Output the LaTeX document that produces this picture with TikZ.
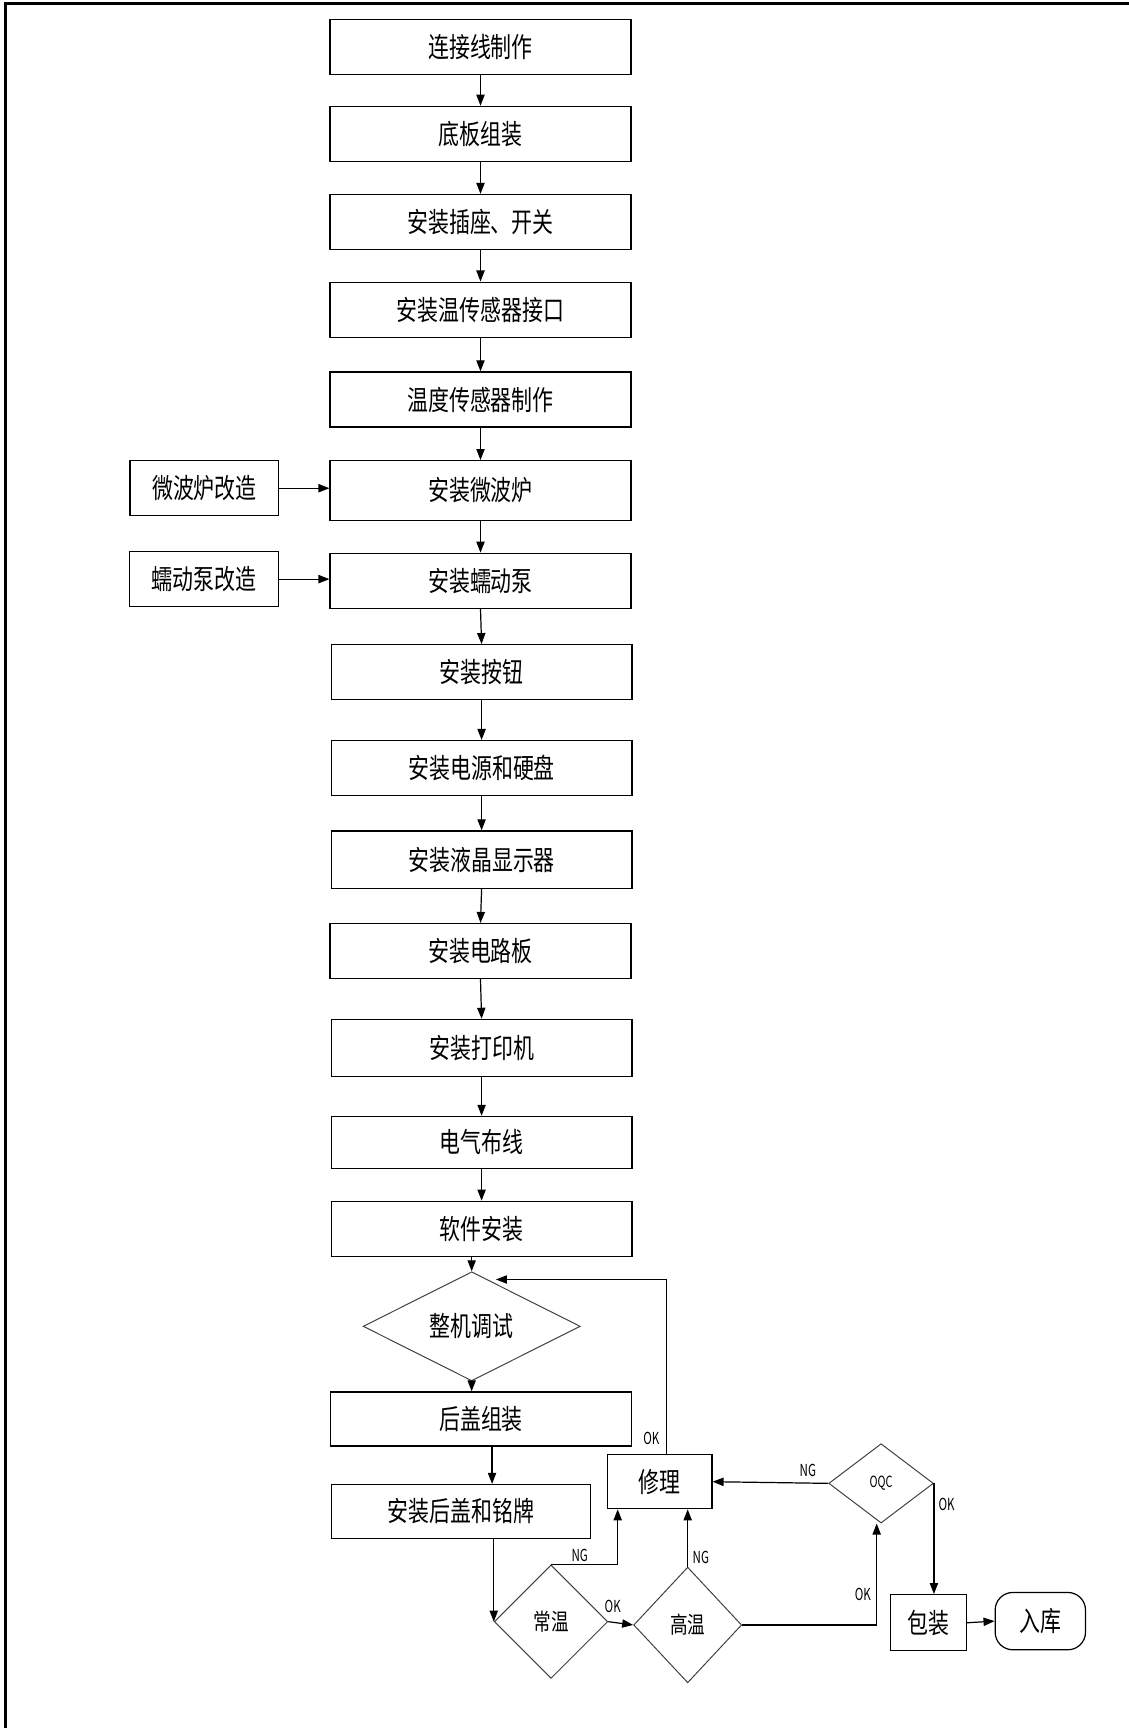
\documentclass[tikz,border=0pt]{standalone}
\usepackage{fontspec}
\newfontfamily\cjk[FakeStretch=0.76]{Noto Sans CJK SC}
\newfontfamily\tag[FakeStretch=0.7]{Noto Sans CJK SC}
\usetikzlibrary{arrows.meta,shapes.geometric,calc}

\begin{document}
\begin{tikzpicture}[x=1pt,y=-1pt,>={Triangle[length=10pt,width=7.5pt]},
  font=\cjk\fontsize{25}{25}\selectfont,line width=1.1pt,
  box/.style={draw,rectangle,minimum width=273pt,minimum height=50pt,inner sep=0pt},
  sidebox/.style={draw,rectangle,minimum width=135pt,minimum height=50pt,inner sep=0pt},
  test/.style={draw=black!75,line width=0.9pt,diamond,inner sep=0pt},
  lbl/.style={font=\tag\fontsize{15}{15}\selectfont,inner sep=1pt}]
  \useasboundingbox (0,0) rectangle (1024,1568);
  % frame
  \draw[line width=2.6pt] (1024,3) -- (5,3) -- (5,1568);

  % main line
  \node[box] (b1) at (436,42.5) {连接线制作};
  \node[box] (b2) at (436,121.5) {底板组装};
  \node[box] (b3) at (436,201.5) {安装插座、开关};
  \node[box] (b4) at (436,281) {安装温传感器接口};
  \node[box] (b5) at (436,362.5) {温度传感器制作};
  \node[box,minimum height=54pt] (b6) at (436,445) {安装微波炉};
  \node[box] (b7) at (436,527) {安装蠕动泵};
  \node[box] (b8) at (437,610) {安装按钮};
  \node[box] (b9) at (437,697) {安装电源和硬盘};
  \node[box,minimum height=52pt] (b10) at (437,780) {安装液晶显示器};
  \node[box] (b11) at (436,863) {安装电路板};
  \node[box,minimum height=52pt] (b12) at (437,951) {安装打印机};
  \node[box,minimum height=47pt] (b13) at (437,1036.5) {电气布线};
  \node[box] (b14) at (437,1115) {软件安装};
  \node[sidebox] (wb) at (185.5,443) {微波炉改造};
  \node[sidebox] (rd) at (185,525.5) {蠕动泵改造};

  \foreach \a/\b in {b1/b2,b2/b3,b3/b4,b4/b5,b5/b6,b6/b7,b7/b8,b8/b9,b9/b10,b10/b11,b11/b12,b12/b13,b13/b14}
    \draw[->] (\a.south) -- (\b.north);
  \draw[->] (wb.east) -- (wb.east -| b6.west);
  \draw[->] (rd.east) -- (rd.east -| b7.west);

  % test and checks
  \node[test,minimum width=197pt,minimum height=67pt] (tst) at (428,1203.5) {整机调试};
  \node[box,minimum height=49pt] (hg) at (436.5,1287.5) {后盖组装};
  \node[box,minimum width=235pt,minimum height=49pt] (mp) at (418.5,1371.5) {安装后盖和铭牌};
  \node[test,minimum width=103pt,minimum height=103pt,font=\cjk\fontsize{21}{21}\selectfont] (cw) at (500,1471.5) {常温};
  \node[test,minimum width=98pt,minimum height=105pt,font=\cjk\fontsize{21}{21}\selectfont] (gw) at (624,1474.5) {高温};
  \node[box,minimum width=95pt,minimum height=49pt] (xl) at (598.5,1344.5) {修理};
  \node[test,minimum width=95pt,minimum height=72pt,font=\tag\fontsize{14}{14}\selectfont] (oqc) at (799.5,1346) {OQC};
  \node[box,minimum width=69pt,minimum height=51pt] (bz) at (842.5,1472.5) {包装};
  \node[draw,rectangle,rounded corners=16pt,minimum width=82pt,minimum height=52pt,inner sep=0pt] (rk) at (944,1471) {入库};
  \coordinate (back) at (450,1161);

  \draw[->] ([xshift=-9pt]b14.south) -- (tst.north);
  \draw[->] ([xshift=6pt]xl.north) |- (back);
  \node[lbl] at (591,1305) {OK};
  \draw[->] (tst.south) -- (tst.south |- hg.north);
  \draw[->] ([xshift=10pt]hg.south) -- ([xshift=10pt]hg.south |- mp.north);
  \draw[->] (mp.south -| cw.west) -- (cw.west);
  \draw[->] (cw.north) -| ([xshift=-38pt]xl.south);
  \node[lbl] at (526,1411) {NG};
  \draw[->] (cw.east) -- (gw.west);
  \node[lbl] at (556,1458) {OK};
  \draw[->] (gw.north) -- (gw.north |- xl.south);
  \node[lbl] at (636,1413) {NG};
  \draw[->] (gw.east) -| ([xshift=-4pt]oqc.south);
  \node[lbl] at (783,1447) {OK};
  \draw[->] (oqc.west) -- (xl.east);
  \node[lbl] at (733,1334) {NG};
  \draw[->] (oqc.east) -- (oqc.east |- bz.north);
  \node[lbl] at (859,1365) {OK};
  \draw[->] (bz.east) -- (rk.west);
\end{tikzpicture}
\end{document}
